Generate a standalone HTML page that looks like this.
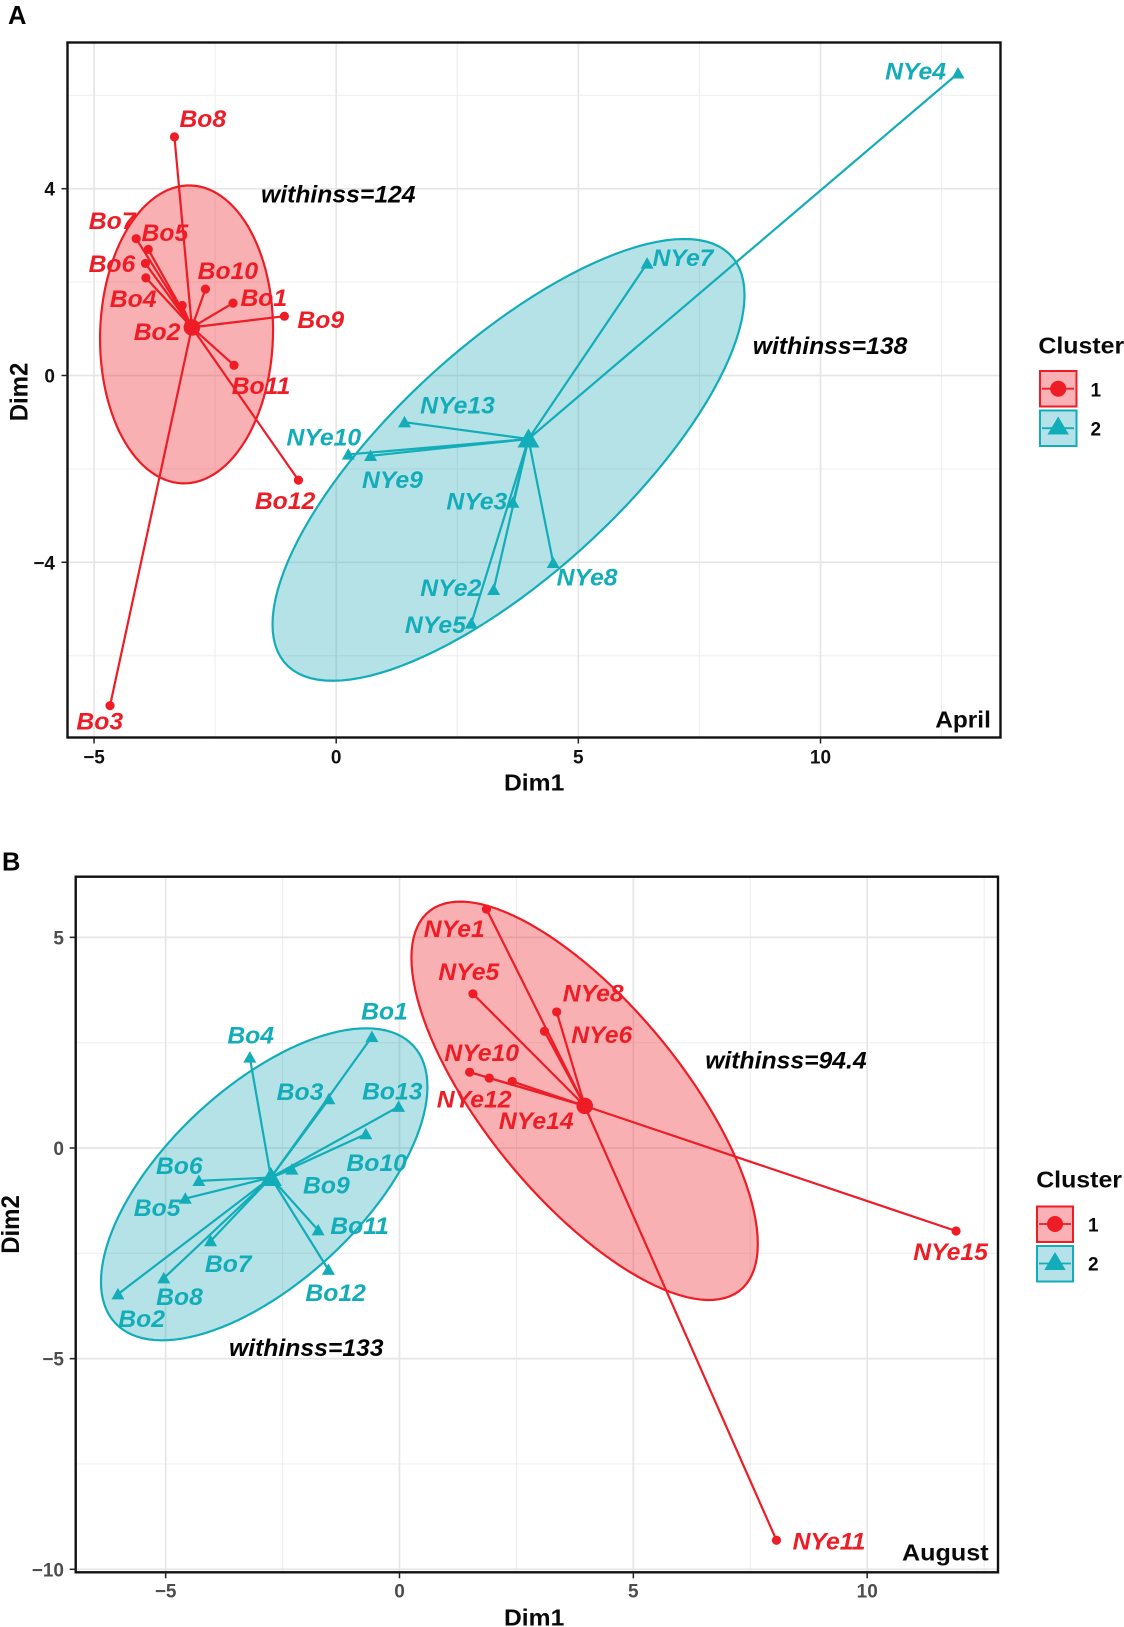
<!DOCTYPE html>
<html lang="en">
<head>
<meta charset="utf-8">
<title>Cluster plots for April and August</title>
<style>
html,body{margin:0;padding:0;background:#fff;}
svg{display:block;font-family:"Liberation Sans",Arial,sans-serif;filter:blur(0.3px);}
.ann{font-size:24px;font-weight:bold;font-style:italic;fill:#050505;}
.title{font-size:23.5px;font-weight:bold;fill:#0a0a0a;}
.tag{font-size:25.5px;font-weight:bold;fill:#050505;}
.key{font-size:19px;font-weight:bold;fill:#0a0a0a;}
</style>
</head>
<body>
<svg id="figure" xmlns="http://www.w3.org/2000/svg" width="1124" height="1627" viewBox="0 0 1124 1627">
  <rect x="0" y="0" width="1124" height="1627" fill="#ffffff"/>
  <g id="panel-a"></g>
  <g id="panel-b"></g>

  <g>
    <text class="tag" x="8" y="24">A</text>
    <text class="ann" transform="translate(261,202.7) scale(1.03,1)">withinss=124</text>
    <text class="ann" transform="translate(752.8,354) scale(1.03,1)">withinss=138</text>
    <text class="title" transform="translate(935.2,727.5) scale(1.04,1)">April</text>
    <text class="title" transform="translate(504,790.7) scale(1.05,1)">Dim1</text>
    <text class="title" text-anchor="middle" transform="translate(27.5,392) rotate(-90) scale(1.02,1.05)">Dim2</text>
  </g>
  <g>
    <text class="title" font-size="24" transform="translate(1038.4,353.3) scale(1.06,1)">Cluster</text>
    <g>
      <rect x="1040" y="371" width="36.5" height="35.5" fill="#f9b1b5" stroke="#ee1c25" stroke-width="2"/>
      <line x1="1042" y1="388.7" x2="1074" y2="388.7" stroke="#ee1c25" stroke-width="1.8"/>
      <circle cx="1058.2" cy="388.7" r="8" fill="#ee1c25"/>
      <text class="key" x="1090.5" y="396.7">1</text>
    </g>
    <g>
      <rect x="1040" y="410.5" width="36.5" height="35.5" fill="#b5e2e8" stroke="#12adb9" stroke-width="2"/>
      <line x1="1042" y1="428.2" x2="1074" y2="428.2" stroke="#12adb9" stroke-width="1.8"/>
      <polygon points="1058.2,416.5 1047.5,434.5 1068.9,434.5" fill="#12adb9"/>
      <text class="key" x="1090.5" y="435.7">2</text>
    </g>
  </g>

  <g>
    <text class="tag" x="2" y="870.7">B</text>
    <text class="ann" transform="translate(705.2,1068.3) scale(1.03,1)">withinss=94.4</text>
    <text class="ann" transform="translate(229,1356) scale(1.03,1)">withinss=133</text>
    <text class="title" transform="translate(902,1560.3) scale(1.07,1)">August</text>
    <text class="title" transform="translate(504,1625.5) scale(1.05,1)">Dim1</text>
    <text class="title" text-anchor="middle" transform="translate(19,1224.5) rotate(-90) scale(1.02,1.05)">Dim2</text>
  </g>
  <g>
    <text class="title" transform="translate(1036.2,1187.3) scale(1.06,1)">Cluster</text>
    <g>
      <rect x="1037" y="1206.5" width="36" height="35.5" fill="#f9b1b5" stroke="#ee1c25" stroke-width="2"/>
      <line x1="1039" y1="1224" x2="1071" y2="1224" stroke="#ee1c25" stroke-width="1.8"/>
      <circle cx="1055" cy="1224" r="8" fill="#ee1c25"/>
      <text class="key" x="1088" y="1231.7">1</text>
    </g>
    <g>
      <rect x="1037" y="1246" width="36" height="35.5" fill="#b5e2e8" stroke="#12adb9" stroke-width="2"/>
      <line x1="1039" y1="1263.5" x2="1071" y2="1263.5" stroke="#12adb9" stroke-width="1.8"/>
      <polygon points="1055,1252 1044.3,1270 1065.7,1270" fill="#12adb9"/>
      <text class="key" x="1088" y="1270.7">2</text>
    </g>
  </g>
</svg>

<script>
// ---- April data ----
const aprilXMajorTicks = [-5, 0, 5, 10];
const aprilXMinorTicks = [-2.5, 2.5, 7.5, 12.5];
const aprilYMajorTicks = [-4, 0, 4];
const aprilYMinorTicks = [-6, -2, 2, 6];

const aprilC1Names = ['Bo1','Bo2','Bo3','Bo4','Bo5','Bo6','Bo7','Bo8','Bo9','Bo10','Bo11','Bo12'];
const aprilC1Dim1 = [-2.13,-3.18,-4.67,-3.93,-3.88,-3.94,-4.13,-3.34,-1.07,-2.70,-2.11,-0.78];
const aprilC1Dim2 = [1.55,1.50,-7.07,2.09,2.70,2.40,2.93,5.11,1.27,1.85,0.22,-2.24];
const aprilC1Center = [-2.98, 1.03];
const aprilC1Ellipse = [-3.09, 0.88, 1.786, 3.19, 0.03];

const aprilC2Names = ['NYe2','NYe3','NYe4','NYe5','NYe7','NYe8','NYe9','NYe10','NYe13'];
const aprilC2Dim1 = [3.25,3.65,12.84,2.79,6.42,4.48,0.71,0.25,1.41];
const aprilC2Dim2 = [-4.59,-2.72,6.47,-5.31,2.40,-4.01,-1.72,-1.69,-1.00];
const aprilC2Center = [3.97, -1.36];
const aprilC2Ellipse = [3.558, -1.807, 4.873, 4.73, 0.745];

// ---- August data ----
const augustXMajorTicks = [-5, 0, 5, 10];
const augustXMinorTicks = [-2.5, 2.5, 7.5, 12.5];
const augustYMajorTicks = [-10, -5, 0, 5];
const augustYMinorTicks = [-7.5, -2.5, 2.5];

const augustC1Names = ['NYe1','NYe5','NYe6','NYe8','NYe10','NYe11','NYe12','NYe14','NYe15'];
const augustC1Dim1 = [1.86,1.57,3.10,3.36,1.50,8.06,1.92,2.41,11.90];
const augustC1Dim2 = [5.67,3.66,2.77,3.23,1.80,-9.31,1.66,1.58,-1.97];
const augustC1Center = [3.96, 1.00];
const augustC1Ellipse = [3.958, 1.12, 3.703, 4.728, -0.718];

const augustC2Names = ['Bo1','Bo2','Bo3','Bo4','Bo5','Bo6','Bo7','Bo8','Bo9','Bo10','Bo11','Bo12','Bo13'];
const augustC2Dim1 = [-0.59,-6.02,-1.51,-3.20,-4.58,-4.29,-4.04,-5.04,-2.30,-0.72,-1.74,-1.52,-0.02];
const augustC2Dim2 = [2.64,-3.47,1.16,2.15,-1.20,-0.78,-2.21,-3.09,-0.51,0.33,-1.95,-2.89,0.98];
const augustC2Center = [-2.75, -0.70];
const augustC2Ellipse = [-2.893, -0.862, 3.49, 3.703, 0.625];

// ---- drawing ----
const SVG_NS = 'http://www.w3.org/2000/svg';
const RED = '#ee1c25';
const TEAL = '#12adb9';

function make(parent, tag, name, attrs) {
  const el = document.createElementNS(SVG_NS, tag);
  
  
  for (const k in attrs) el.setAttribute(k, attrs[k]);
  parent.appendChild(el);
  return el;
}

function triPoints(x, y, w, h) {
  return (x) + ',' + (y - h * 0.55) + ' ' + (x - w / 2) + ',' + (y + h * 0.45) + ' ' + (x + w / 2) + ',' + (y + h * 0.45);
}

function fmtTick(v) {
  return v < 0 ? '\u2212' + Math.abs(v) : String(v);
}

function drawGrid(g, cfg, prefix) {
  const f = cfg.box;
  cfg.yMinor.forEach(function (v) {
    make(g, 'line', prefix + '-y-minor-gridline', {x1: f.l, x2: f.r, y1: cfg.sy(v), y2: cfg.sy(v), stroke: '#f0f0f0', 'stroke-width': 1.1});
  });
  cfg.xMinor.forEach(function (v) {
    make(g, 'line', prefix + '-x-minor-gridline', {x1: cfg.sx(v), x2: cfg.sx(v), y1: f.t, y2: f.b, stroke: '#eeeeee', 'stroke-width': 1.1});
  });
  cfg.yMajor.forEach(function (v) {
    make(g, 'line', prefix + '-y-major-gridline', {x1: f.l, x2: f.r, y1: cfg.sy(v), y2: cfg.sy(v), stroke: '#e6e6e6', 'stroke-width': 1.7});
  });
  cfg.xMajor.forEach(function (v) {
    make(g, 'line', prefix + '-x-major-gridline', {x1: cfg.sx(v), x2: cfg.sx(v), y1: f.t, y2: f.b, stroke: '#e6e6e6', 'stroke-width': 1.7});
  });
}

function drawEllipse(g, cfg, params, color, name) {
  const pts = [];
  const phi = Math.acos(params[4]);
  for (let i = 0; i < 120; i++) {
    const t = i / 120 * 2 * Math.PI;
    const dx = params[0] + params[2] * Math.cos(t);
    const dy = params[1] + params[3] * Math.cos(t - phi);
    pts.push(cfg.sx(dx).toFixed(2) + ',' + cfg.sy(dy).toFixed(2));
  }
  const isRed = color === RED;
  make(g, 'polygon', name, {points: pts.join(' '), fill: isRed ? RED : '#10a0ae', 'fill-opacity': isRed ? 0.35 : 0.31, stroke: color, 'stroke-width': 2.2});
}

function drawCluster(g, cfg, c, prefix) {
  const cx = cfg.sx(c.center[0]);
  const cy = cfg.sy(c.center[1]);
  c.names.forEach(function (n, i) {
    make(g, 'line', prefix + '-segment-' + n.toLowerCase(), {x1: cx, y1: cy, x2: cfg.sx(c.dim1[i]), y2: cfg.sy(c.dim2[i]), stroke: c.color, 'stroke-width': 2.2});
  });
  c.names.forEach(function (n, i) {
    const px = cfg.sx(c.dim1[i]);
    const py = cfg.sy(c.dim2[i]);
    if (c.shape === 'circle') {
      make(g, 'circle', prefix + '-point-' + n.toLowerCase(), {cx: px, cy: py, r: 4.6, fill: c.color});
    } else {
      make(g, 'polygon', prefix + '-point-' + n.toLowerCase(), {points: triPoints(px, py, 13, 11.5), fill: c.color});
    }
  });
  if (c.shape === 'circle') {
    make(g, 'circle', prefix + '-centroid', {cx: cx, cy: cy, r: 8.3, fill: c.color});
  } else {
    make(g, 'polygon', prefix + '-centroid', {points: triPoints(cx, cy, 22, 19), fill: c.color});
  }
  c.names.forEach(function (n, i) {
    const px = cfg.sx(c.dim1[i]);
    const py = cfg.sy(c.dim2[i]);
    const nudge = c.nudge[n];
    const t = make(g, 'text', prefix + '-label-' + n.toLowerCase(), {
      transform: 'translate(' + (px + nudge[0] - 0.4) + ',' + (py + nudge[1]) + ') scale(1.03,1)',
      'font-size': 24, 'font-weight': 'bold', 'font-style': 'italic', fill: c.color
    });
    t.textContent = n;
  });
}

function drawAxes(g, cfg, prefix) {
  const f = cfg.box;
  make(g, 'rect', prefix + '-panel-border', {x: f.l, y: f.t, width: f.r - f.l, height: f.b - f.t, fill: 'none', stroke: '#111111', 'stroke-width': 2.4});
  cfg.xMajor.forEach(function (v) {
    const x = cfg.sx(v);
    make(g, 'line', prefix + '-x-tick', {x1: x, x2: x, y1: f.b, y2: f.b + 6, stroke: '#222222', 'stroke-width': 1.5});
    const t = make(g, 'text', prefix + '-x-tick-label', {x: x, y: cfg.xLabelY, 'text-anchor': 'middle', 'font-size': 19, 'font-weight': 'bold', fill: cfg.tickColor});
    t.textContent = fmtTick(v);
  });
  cfg.yMajor.forEach(function (v) {
    const y = cfg.sy(v);
    make(g, 'line', prefix + '-y-tick', {x1: f.l - 6, x2: f.l, y1: y, y2: y, stroke: '#222222', 'stroke-width': 1.5});
    const t = make(g, 'text', prefix + '-y-tick-label', {x: cfg.yLabelX, y: y + 7, 'text-anchor': 'end', 'font-size': 19, 'font-weight': 'bold', fill: cfg.tickColor});
    t.textContent = fmtTick(v);
  });
}

function drawPanel(g, cfg, clusters, prefix) {
  drawGrid(g, cfg, prefix);
  clusters.forEach(function (c, i) {
    drawEllipse(g, cfg, c.ellipse, c.color, prefix + '-cluster' + (i + 1) + '-ellipse');
  });
  clusters.forEach(function (c) {
    drawCluster(g, cfg, c, prefix);
  });
  drawAxes(g, cfg, prefix);
}

drawPanel(document.getElementById('panel-a'), {
  box: {l: 67.5, r: 1000.5, t: 42.5, b: 737.5},
  sx: function (v) { return 336.2 + 48.43 * v; },
  sy: function (v) { return 375.5 - 46.7 * v; },
  xMajor: aprilXMajorTicks, xMinor: aprilXMinorTicks,
  yMajor: aprilYMajorTicks, yMinor: aprilYMinorTicks,
  xLabelY: 763.5, yLabelX: 55, tickColor: '#111111'
}, [
  {names: aprilC1Names, dim1: aprilC1Dim1, dim2: aprilC1Dim2, center: aprilC1Center, ellipse: aprilC1Ellipse, color: RED, shape: 'circle',
   nudge: {Bo1:[7.8,3],Bo2:[-48.1,34.7],Bo3:[-33.2,23.6],Bo4:[-35.7,29.3],Bo5:[-6.4,-8.3],Bo6:[-56.4,8.7],Bo7:[-47,-9.7],Bo8:[5.4,-10],Bo9:[13.4,12],Bo10:[-7.4,-10.3],Bo11:[-1.9,28.7],Bo12:[-43.2,28.7]}},
  {names: aprilC2Names, dim1: aprilC2Dim1, dim2: aprilC2Dim2, center: aprilC2Center, ellipse: aprilC2Ellipse, color: TEAL, shape: 'triangle',
   nudge: {NYe2:[-72.9,6],NYe3:[-66.2,7],NYe4:[-72.5,6],NYe5:[-66,9.7],NYe7:[5.8,2.4],NYe8:[3.8,22.8],NYe9:[-8.2,32],NYe10:[-61.4,-9],NYe13:[16.1,-8.7]}}
], 'april');

drawPanel(document.getElementById('panel-b'), {
  box: {l: 75.7, r: 998, t: 876.7, b: 1572.3},
  sx: function (v) { return 399.5 + 46.77 * v; },
  sy: function (v) { return 1148 - 42.13 * v; },
  xMajor: augustXMajorTicks, xMinor: augustXMinorTicks,
  yMajor: augustYMajorTicks, yMinor: augustYMinorTicks,
  xLabelY: 1597.7, yLabelX: 64, tickColor: '#4d4d4d'
}, [
  {names: augustC1Names, dim1: augustC1Dim1, dim2: augustC1Dim2, center: augustC1Center, ellipse: augustC1Ellipse, color: RED, shape: 'circle',
   nudge: {NYe1:[-62.3,28],NYe5:[-34.2,-13.7],NYe6:[27.2,11.7],NYe8:[6.5,-10.3],NYe10:[-24.9,-11],NYe11:[16.5,9.4],NYe12:[-52.1,29.3],NYe14:[-12.9,47.4],NYe15:[-42.4,29]}},
  {names: augustC2Names, dim1: augustC2Dim1, dim2: augustC2Dim2, center: augustC2Center, ellipse: augustC2Ellipse, color: TEAL, shape: 'triangle',
   nudge: {Bo1:[-10.4,-17.4],Bo2:[0.7,32.7],Bo3:[-51.8,1],Bo4:[-22.1,-14],Bo5:[-51.1,17.3],Bo6:[-42.5,-6.7],Bo7:[-5.3,31],Bo8:[-7.2,26.7],Bo9:[11.5,24],Bo10:[-19,36.7],Bo11:[12.5,4],Bo12:[-22.6,31],Bo13:[-36.1,-7.4]}}
], 'august');
</script>
</body>
</html>
